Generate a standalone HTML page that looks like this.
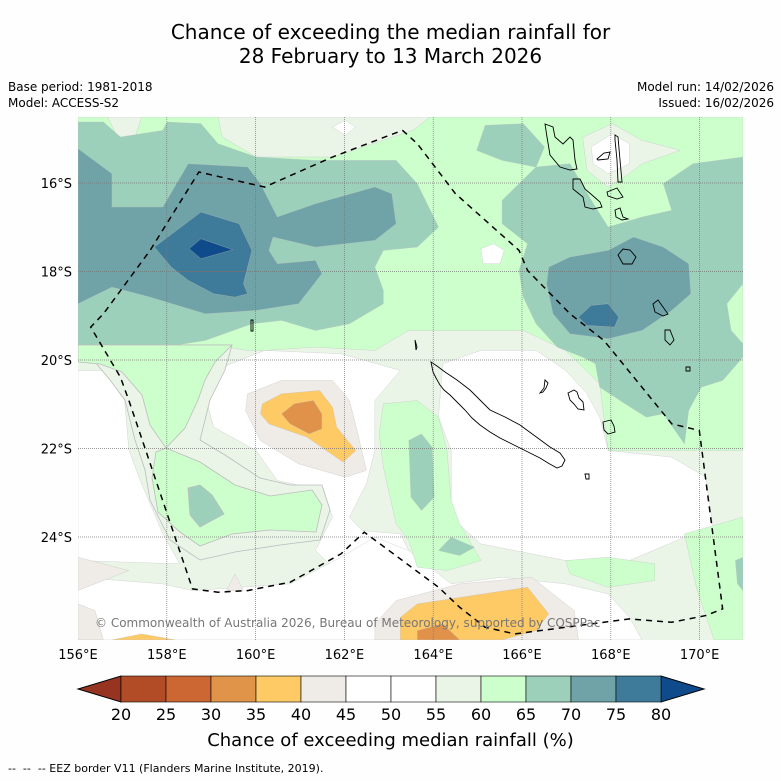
<!DOCTYPE html>
<html><head><meta charset="utf-8">
<style>
body{margin:0;background:#fdfefd;font-family:"Liberation Sans","DejaVu Sans",sans-serif;}
#wrap{position:relative;width:781px;height:781px;overflow:hidden;background:#fdfefd;}
.t{position:absolute;color:#000;white-space:nowrap;}
</style></head><body>
<div id="wrap">
<div class="t" style="left:0;width:781px;text-align:center;top:20px;font-size:20px;line-height:24px;font-family:'DejaVu Sans',sans-serif;">Chance of exceeding the median rainfall for<br>28 February to 13 March 2026</div>
<div class="t" style="left:8px;top:80px;font-size:12px;font-family:'DejaVu Sans',sans-serif;">Base period: 1981-2018</div>
<div class="t" style="left:8px;top:96px;font-size:12px;font-family:'DejaVu Sans',sans-serif;">Model: ACCESS-S2</div>
<div class="t" style="right:7px;top:80px;font-size:12px;font-family:'DejaVu Sans',sans-serif;">Model run: 14/02/2026</div>
<div class="t" style="right:7px;top:96px;font-size:12px;font-family:'DejaVu Sans',sans-serif;">Issued: 16/02/2026</div>

<svg id="svg" width="781" height="781" style="position:absolute;left:0;top:0">
<defs><clipPath id="mc"><rect x="78" y="117" width="665" height="523"/></clipPath></defs>
<g clip-path="url(#mc)">
<rect x="78" y="117" width="665" height="523" fill="#eaf5e8"/>
<g transform="translate(78,117) scale(0.4241,0.3335)" stroke="#bcbcbc" stroke-width="0.8" vector-effect="non-scaling-stroke">
<path fill="#ccffcc" d="M0,0 L1568,0 L1568,1000 L1430,1000 L1250,1000 L1230,800 L1150,700 L1050,640 L780,640 L700,700 L560,690 L440,700 L400,700 L350,690 L0,700 Z"/>
<path fill="#eaf5e8" d="M70,0 L150,0 L130,80 L100,80 Z M330,0 L830,0 L790,40 L600,120 L420,120 L340,60 Z"/>
<path fill="#fff" d="M600,30 L630,10 L655,30 L630,55 Z M950,395 L980,380 L1005,400 L995,440 L955,440 Z"/>
<path fill="#eaf5e8" d="M1190,60 L1260,20 L1330,70 L1420,100 L1330,140 L1300,170 L1250,210 L1200,160 Z"/>
<path fill="#fff" d="M1210,90 L1260,50 L1300,80 L1300,140 L1250,170 L1215,140 Z"/>
<path fill="#fff" d="M0,760 L60,760 L110,850 L120,1000 L150,1100 L200,1250 L240,1340 L0,1330 Z"/>
<path fill="#fff" d="M320,760 L440,700 L620,710 L760,760 L700,850 L700,1000 L680,1100 L640,1200 L670,1240 L760,1250 L800,1350 L760,1400 L640,1400 L560,1300 L600,1200 L580,1120 L470,1090 L420,1000 L320,930 L300,840 Z"/>
<path fill="#fff" d="M860,740 L950,700 L1080,700 L1150,760 L1200,830 L1230,900 L1250,1000 L1400,1020 L1480,1080 L1500,1250 L1430,1260 L1300,1330 L1150,1330 L950,1280 L880,1200 L880,1000 L850,900 Z"/>
<path fill="#fff" d="M0,1380 L200,1400 L270,1420 L500,1400 L620,1320 L700,1260 L780,1300 L880,1400 L1000,1380 L1150,1400 L1250,1430 L1300,1500 L1330,1568 L0,1568 Z"/>
<path fill="#ccffcc" d="M720,860 L800,850 L850,900 L870,1000 L880,1150 L900,1220 L950,1330 L870,1360 L800,1350 L780,1270 L750,1220 L720,1050 L710,950 Z"/>
<path fill="#ccffcc" d="M1150,1330 L1250,1320 L1360,1340 L1360,1390 L1250,1410 L1160,1370 Z M1430,1250 L1568,1200 L1568,1568 L1500,1568 L1460,1420 Z"/>
<path fill="#9dd0bb" d="M0,15 L60,15 L100,60 L200,40 L210,15 L290,20 L330,80 L420,120 L560,130 L750,130 L800,200 L850,330 L800,390 L720,400 L700,450 L720,520 L720,560 L640,620 L560,640 L480,610 L410,620 L300,670 L200,690 L0,690 Z"/>
<path fill="#9dd0bb" d="M1000,250 L1080,150 L1160,140 L1220,270 L1250,330 L1330,300 L1400,280 L1380,200 L1450,140 L1568,120 L1568,500 L1530,560 L1540,640 L1568,680 L1568,720 L1520,790 L1470,810 L1440,880 L1430,980 L1380,890 L1340,900 L1290,860 L1230,810 L1220,740 L1190,720 L1130,690 L1080,620 L1050,540 L1040,460 L1060,380 L1000,320 Z M940,100 L960,25 L1050,20 L1100,90 L1080,150 L1000,130 Z"/>
<path fill="#9dd0bb" d="M780,970 L810,950 L835,990 L840,1140 L810,1180 L785,1140 Z M850,1300 L880,1260 L935,1290 L900,1315 Z M1550,1330 L1568,1320 L1568,1420 L1555,1400 Z"/>
<path fill="#6fa3a8" d="M0,95 L80,170 L80,270 L200,270 L260,140 L400,150 L430,200 L470,300 L560,260 L700,210 L740,230 L750,320 L700,370 L560,390 L460,360 L450,400 L470,440 L560,430 L575,470 L520,560 L420,580 L300,590 L170,540 L80,510 L0,560 Z"/>
<path fill="#6fa3a8" d="M1110,450 L1160,420 L1250,400 L1310,360 L1380,390 L1440,440 L1445,530 L1400,580 L1330,640 L1250,665 L1160,650 L1120,590 L1105,500 Z"/>
<path fill="#3e7a99" d="M180,390 L290,285 L380,320 L410,400 L390,500 L400,530 L370,540 L320,530 L260,490 L220,450 Z"/>
<path fill="#3e7a99" d="M1180,600 L1210,565 L1250,560 L1275,600 L1265,630 L1200,625 Z"/>
<path fill="#0f4a8a" d="M262,395 L290,365 L365,398 L290,425 Z"/>
<path fill="#efebe6" d="M400,830 L480,790 L600,790 L640,850 L660,950 L680,1060 L630,1080 L520,1040 L430,970 L395,880 Z M700,1520 L750,1450 L900,1400 L1070,1380 L1170,1480 L1180,1568 L700,1568 Z M0,1320 L120,1360 L0,1420 Z M0,1460 L40,1480 L60,1568 L0,1568 Z M350,1420 L370,1370 L390,1420 Z"/>
<path fill="#fdca66" d="M435,860 L480,830 L570,820 L600,870 L610,930 L655,1000 L625,1035 L540,960 L450,920 L430,890 Z M760,1500 L800,1460 L1060,1410 L1110,1490 L1080,1540 L1000,1568 L760,1568 Z M80,1568 L150,1550 L230,1568 Z"/>
<path fill="#e0924a" d="M480,890 L510,860 L555,850 L575,890 L575,935 L545,950 L500,920 Z M800,1540 L860,1520 L900,1568 L800,1568 Z"/>
</g>
<g stroke="#bcbcbc" stroke-width="0.8">
<path fill="#eaf5e8" d="M78,362 L95,362 L110,380 L125,400 L135,440 L145,470 L150,500 L170,540 L200,560 L235,552 L280,545 L320,540 L330,510 L322,485 L290,485 L260,478 L225,455 L200,440 L210,400 L225,370 L232,345 L78,345 Z"/>
<path fill="#ccffcc" d="M78,345 L232,345 L215,362 L205,380 L198,400 L185,428 L166,448 L150,425 L142,395 L122,372 L100,364 L78,362 Z"/>
<path fill="#ccffcc" d="M156,452 L166,448 L200,462 L235,485 L270,496 L312,490 L322,505 L316,532 L270,530 L232,534 L200,546 L180,532 L158,512 L152,478 Z"/>
<path fill="#9dd0bb" d="M188,488 L200,485 L212,495 L224,514 L200,527 L190,515 Z"/>
</g>
<g id="grid" stroke="#777" stroke-width="0.7" stroke-dasharray="1,1"></g>
<g fill="none" stroke="#000" stroke-width="0.9">
<path d="M431,362 L437,366 L445,372 L457,380 L470,390 L480,400 L490,410 L505,417 L520,425 L535,436 L550,447 L560,453 L565,460 L562,466 L557,468 L548,463 L540,458 L530,453 L520,448 L510,443 L500,438 L490,432 L480,425 L472,418 L465,410 L457,402 L450,395 L444,390 L440,385 L436,378 L433,372 Z"/>
<path d="M545,380 L548,383 L546,388 L543,392 L540,393 L544,388 Z M568,393 L574,390 L577,392 L579,398 L583,402 L584,410 L578,409 L574,404 L570,400 Z M603,422 L611,420 L614,426 L615,432 L608,434 L604,430 Z M585,474 L589,474 L589,479 L586,479 Z"/>
<path d="M545,124 L553,127 L555,137 L563,144 L570,137 L573,140 L575,160 L577,169 L570,170 L560,167 L550,155 L547,137 Z M573,179 L580,179 L585,189 L592,195 L600,202 L602,207 L593,209 L585,207 L583,197 L573,189 Z M615,135 L618,137 L620,160 L622,182 L618,182 L617,160 L615,140 Z M597,159 L604,153 L610,152 L608,159 L598,160 Z M607,192 L617,188 L623,197 L617,199 L608,196 Z M615,210 L620,208 L623,217 L628,219 L622,220 L616,217 Z M618,255 L623,249 L630,250 L636,257 L632,264 L623,264 Z M653,304 L658,300 L663,307 L668,314 L663,316 L655,312 Z M665,330 L670,330 L674,340 L670,345 L665,340 Z M686,367 L690,367 L690,371 L686,371 Z"/>
<path d="M251,320 L253,320 L253,331 L251,331 Z M415,340 L417,347 L416,350 Z"/>
</g>
<path transform="translate(78,117) scale(0.4241,0.3335)" fill="none" stroke="#000" stroke-width="1.5" stroke-dasharray="6,5" vector-effect="non-scaling-stroke" d="M765,40 L800,80 L890,230 L1040,400 L1060,460 L1160,590 L1240,670 L1400,920 L1465,940 L1520,1475 L1480,1495 L1400,1515 L1300,1505 L1150,1530 L1030,1550 L960,1530 L900,1470 L850,1410 L675,1245 L620,1310 L500,1395 L400,1420 L330,1425 L270,1415 L120,850 L100,780 L30,630 L60,590 L170,400 L285,165 L440,210 L600,120 L765,40"/>
<text x="95" y="627" font-size="12" fill="#777" font-family="DejaVu Sans, sans-serif">© Commonwealth of Australia 2026, Bureau of Meteorology, supported by COSPPac</text>
</g>
<g id="axes" font-family="DejaVu Sans, sans-serif" font-size="13"></g>
<g id="cbar"></g>
</svg>
<div class="t" style="left:0;width:781px;text-align:center;top:730px;font-size:18px;font-family:'DejaVu Sans',sans-serif;">Chance of exceeding median rainfall (%)</div>
<div class="t" style="left:8px;top:762px;font-size:11px;font-family:'DejaVu Sans',sans-serif;">-- &nbsp;-- &nbsp;-- EEZ border V11 (Flanders Marine Institute, 2019).</div>
</div>
<script>
const lonTicks=[156,158,160,162,164,166,168,170];
const latTicks=[16,18,20,22,24];
const cbLevels=[20,25,30,35,40,45,50,55,60,65,70,75,80];
const cbColors=["#b24c26","#cc6632","#e0944a","#fdca66","#efebe6","#ffffff","#ffffff","#eaf5e8","#ccffcc","#9dd0bb","#6fa3a8","#3e7a99"];
const cbUnder="#973421", cbOver="#0f4a8a";
const NS="http://www.w3.org/2000/svg";
function lx(l){return 78+(l-156)*44.4;}
function ly(l){return 183+(l-16)*88.5/2;}
function mk(t,a,p){const e=document.createElementNS(NS,t);for(const k in a)e.setAttribute(k,a[k]);p.appendChild(e);return e;}
const grid=document.getElementById('grid'),axes=document.getElementById('axes'),cb=document.getElementById('cbar');
lonTicks.forEach(l=>{
  if(l>156){const g=mk('line',{x1:lx(l),x2:lx(l),y1:117,y2:640},grid);
  
  }
  const t=mk('text',{x:lx(l),y:659,'text-anchor':'middle'},axes);t.textContent=l+'°E';
  
  
});
latTicks.forEach(l=>{
  const g=mk('line',{x1:78,x2:743,y1:ly(l),y2:ly(l)},grid);
  
  
  const t=mk('text',{x:72,y:ly(l)+5,'text-anchor':'end'},axes);t.textContent=l+'°S';
  
  
});
const cx0=121,cw=45,cy=676,ch=26;
function cxv(v){return cx0+(v-cbLevels[0])/5*cw;}
const u=mk('polygon',{points:`${cx0},${cy} ${cx0},${cy+ch} 78,${cy+ch/2}`,fill:cbUnder,stroke:'#000','stroke-width':1},cb);


const last=cxv(cbLevels[cbLevels.length-1]);
const o=mk('polygon',{points:`${last},${cy} ${last},${cy+ch} ${last+43},${cy+ch/2}`,fill:cbOver,stroke:'#000','stroke-width':1},cb);


cbColors.forEach((c,i)=>{
  const r=mk('rect',{x:cxv(cbLevels[i]),y:cy,width:cxv(cbLevels[i+1])-cxv(cbLevels[i]),height:ch,fill:c,stroke:'#000','stroke-width':0.6},cb);
  
  
});
cbLevels.forEach(v=>{
  const t=mk('text',{x:cxv(v),y:720,'text-anchor':'middle','font-size':16,'font-family':'DejaVu Sans, sans-serif'},cb);t.textContent=v;
  
  
});
</script>
</body></html>
